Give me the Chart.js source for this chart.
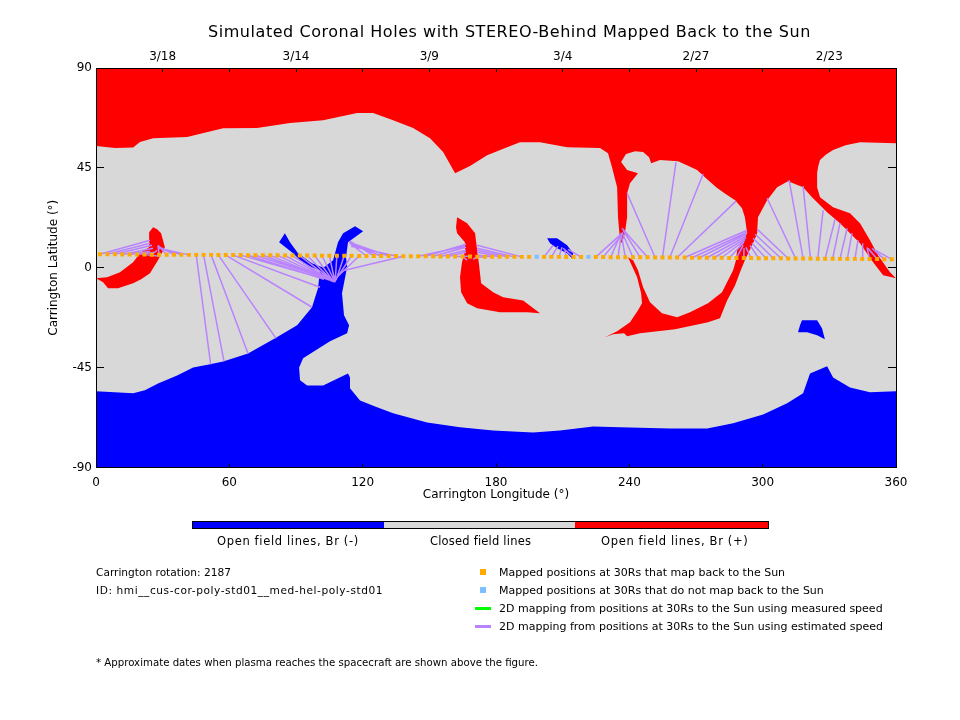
<!DOCTYPE html>
<html>
<head>
<meta charset="utf-8">
<title>Simulated Coronal Holes</title>
<script src="https://cdn.jsdelivr.net/npm/chart.js@4/dist/chart.umd.min.js"></script>
<style>
  body { margin: 0; background: #fff; }
  #wrap { position: relative; width: 960px; height: 720px; overflow: hidden; }
  canvas { position: absolute; left: 0; top: 0; }
  .t { position: absolute; white-space: pre; font-family: "DejaVu Sans", sans-serif; color: #000; transform: translateY(-50%); }
  .box { position: absolute; }
</style>
</head>
<body>
<div id="wrap"><canvas id="map" width="960" height="720"></canvas></div>
<script>
// Region outlines, longitude / latitude in degrees
var closedLon = [0, 360, 360, 0];
var closedLat = [90, 90, -90, -90];

var northLon = [0, 360, 360, 343.8, 337.3, 331.7, 328.5, 325.8, 325, 324.5, 324.5, 325.8, 331.7, 339.3, 343.8, 348.3, 351.9, 357.3, 360, 354.2, 349.7, 343.8, 334.8, 329, 322.2, 318.2, 311.4, 306.5, 302, 297.9, 297.5, 295.2, 293, 293, 292, 290.7, 287.6, 283.5, 279.5, 275, 270.5, 266.4, 261.9, 253.8, 249.8, 248.9, 246.2, 242.6, 238.5, 236.3, 239, 243.9, 240.3, 239, 239, 238, 236.7, 235.8, 234.9, 234.5, 232.2, 230.4, 226.8, 212, 199.8, 190.8, 185, 176, 168.3, 161.6, 156.2, 150.3, 142.7, 133.7, 124.7, 117.5, 102.2, 87.3, 72.5, 57.2, 41, 25.7, 19.8, 16.7, 8.6, 0];
var northLat = [90, 90, 56.1, 56.6, 55.2, 53, 51, 48.5, 45.7, 42.6, 36.3, 31.8, 27.3, 24.6, 20.1, 12.4, 5.6, -2, -4.7, -3.4, 2.5, 11, 20.1, 25, 31.8, 36.3, 39, 36.3, 30.4, 22.8, 15.6, 10.1, 10.1, 15.6, 22.8, 26.8, 30.4, 33.1, 35.9, 39.9, 44, 46, 48, 48.5, 47.1, 49.8, 52.1, 52.5, 51.2, 47.6, 44, 42.6, 38.1, 33.6, 22.8, 15.6, 11, 12.4, 22.8, 36.3, 45.3, 51.6, 53.9, 54.3, 56.6, 56.6, 54.3, 50.7, 45.8, 42.6, 52.1, 58.4, 63, 66.5, 69.7, 69.7, 66.5, 65.2, 63, 62.9, 58.9, 58.4, 56.7, 54.2, 54, 54.9];

var southLon = [0, 360, 360, 348.3, 339.3, 331.7, 329, 321.3, 318.2, 311, 300.2, 286.7, 275, 258.3, 235.8, 223.7, 208.8, 196.7, 178.7, 163.8, 149, 133.7, 126.5, 118.8, 114.3, 114.3, 113.4, 102.2, 95, 91.8, 91.4, 93.2, 105.3, 113, 113.9, 111.6, 110.7, 113, 112.5, 113.4, 120.2, 116.6, 111.2, 108.9, 106.7, 100.8, 99.9, 97.2, 90.5, 80.6, 68.4, 57.2, 51.3, 43.7, 36.5, 27.9, 22, 16.7, 0];
var southLat = [-90, -90, -55.7, -56.1, -53.9, -49.4, -44.4, -47.6, -56.6, -61.1, -66.1, -70.1, -72.4, -72.4, -71.9, -71.5, -73.3, -74.2, -73.3, -71.9, -69.7, -65.6, -62.9, -59.8, -54.3, -49.4, -47.6, -53, -53, -50.7, -44.9, -40.8, -33.1, -29.5, -25.9, -21.4, -11.5, 0.2, 4.7, 11.5, 16.5, 18.7, 15.6, 11.5, 3.4, -1.1, -9.2, -17.8, -25.9, -31.8, -38.6, -42.2, -43.5, -44.9, -48.5, -52.1, -55.2, -56.6, -55.7];

var armLon = [82.4, 85, 87.3, 90.9, 97.2, 105.3, 102.2, 93.2, 88.7];
var armLat = [11.5, 15.6, 11.5, 6.5, 2, -1.1, -2, 2, 6.5];

var midBlueLon = [203, 207.5, 212, 214.7, 214.2, 212, 207.5, 204.3];
var midBlueLat = [13.3, 13.3, 10.1, 6.5, 4.3, 6.5, 8.8, 11];

var rightBlueLon = [317.7, 324.5, 326.7, 328, 324.5, 320, 315.9, 316.8];
var rightBlueLat = [-23.7, -23.7, -27.3, -32.2, -30.4, -29.1, -29.1, -25.9];

var leftRedLon = [25.7, 27.5, 29.3, 31, 27.9, 24.3, 20.3, 16.7, 9.9, 5.4, 3.2, 0, 5, 10.8, 16.7, 19.8, 23.9, 23.9];
var leftRedLat = [18.3, 17.4, 15.6, 9.2, 3.4, -2.5, -5.2, -7, -9.2, -9.2, -6.5, -4.7, -4.3, -2, 2.5, 6.5, 9.2, 16];

var midRedLon = [162.5, 167, 170.6, 171.5, 172.4, 173.3, 178.7, 183.2, 192.2, 199.8, 194, 181.8, 171.5, 167, 164.3, 163.8, 164.7, 166.1, 166, 162.5, 162];
var midRedLat = [22.8, 20.1, 15.6, 7.9, 1.1, -7, -11, -13.3, -14.7, -20.5, -20.1, -20.1, -18.3, -16, -11, -4.3, 2.5, 7.9, 11.5, 15.6, 18.3];

var ringLon = [288.5, 293, 297.5, 295.2, 292, 289.8, 287.6, 284, 280.8, 275.4, 260.6, 244.8, 239, 237.6, 232.7, 229, 234.5, 240.3, 243.9, 245.7, 245.3, 243.5, 239.4, 241.7, 243.9, 246.2, 249.3, 254.7, 261.5, 267.3, 275.4, 281.7, 286.7, 288];
var ringLat = [7.9, 15.6, 15.6, 10.1, 3.4, -2, -7.9, -14.7, -22.8, -24.6, -27.7, -29.5, -30.9, -29.5, -30, -31.3, -28.6, -24.6, -19.2, -16, -11.5, -4.3, 4.7, 3.4, -1.1, -8.8, -15.6, -20.5, -22.3, -20.1, -16, -11, -1.1, 3.4];

// Positions at 30Rs and where they land on the Sun (null = no line drawn)
var sourceLon = [1.8, 5.1, 8.5, 11.8, 15.1, 18.5, 21.8, 25.1, 28.4, 31.8, 35.1, 38.4, 41.8, 45.1, 48.4, 51.8, 55.1, 58.4, 61.7, 65.1, 68.4, 71.7, 75.1, 78.4, 81.7, 85.1, 88.4, 91.7, 95, 98.4, 101.7, 105, 108.4, 111.7, 115, 118.4, 121.7, 125, 128.3, 131.7, 135, 138.3, 141.7, 145, 148.3, 151.7, 155, 158.3, 161.6, 165, 168.3, 171.6, 175, 178.3, 181.6, 185, 188.3, 191.6, 194.9, 201.6, 204.9, 208.3, 211.6, 214.9, 218.3, 224.9, 228.2, 231.6, 234.9, 238.2, 241.6, 244.9, 248.2, 251.6, 254.9, 258.2, 261.5, 264.9, 268.2, 271.5, 274.9, 278.2, 281.5, 284.9, 288.2, 291.5, 294.8, 298.2, 301.5, 304.8, 308.2, 311.5, 314.8, 318.2, 321.5, 324.8, 328.1, 331.5, 334.8, 338.1, 341.5, 344.8, 348.1, 351.5, 354.8, 358.1];
var sourceLat = [6.1, 6.1, 6.1, 6, 6, 6, 6, 5.9, 5.9, 5.9, 5.9, 5.8, 5.8, 5.8, 5.8, 5.8, 5.7, 5.7, 5.7, 5.7, 5.6, 5.6, 5.6, 5.6, 5.6, 5.5, 5.5, 5.5, 5.5, 5.5, 5.4, 5.4, 5.4, 5.4, 5.4, 5.3, 5.3, 5.3, 5.3, 5.3, 5.3, 5.2, 5.2, 5.2, 5.2, 5.2, 5.1, 5.1, 5.1, 5.1, 5.1, 5, 5, 5, 5, 5, 4.9, 4.9, 4.9, 4.9, 4.9, 4.9, 4.8, 4.8, 4.8, 4.8, 4.8, 4.7, 4.7, 4.7, 4.7, 4.7, 4.7, 4.6, 4.6, 4.6, 4.6, 4.6, 4.5, 4.5, 4.5, 4.5, 4.5, 4.4, 4.4, 4.4, 4.4, 4.3, 4.3, 4.3, 4.3, 4.2, 4.2, 4.2, 4.2, 4.1, 4.1, 4.1, 4, 4, 4, 3.9, 3.9, 3.9, 3.8, 3.8];
var footLon = [24.3, 24.3, 25.2, 25.7, 24.3, 26.6, 28.8, 27.5, 27.9, 27.9, 27.9, 27.9, 28.4, 51.6, 57.6, 68.4, 81, 97.2, 100.8, 101.7, 102.6, 103.5, 104, 104.9, 105.3, 105.8, 106.2, 106.7, 107.1, 107.1, 107.6, 107.6, 107.6, 108, 108, 108.9, 114.3, 114.3, 114.8, 113.9, 114.8, 112, null, 166, 166.5, 166.5, 166.5, 166.5, 167.4, 167, 168.3, 169.7, 171, 171.9, 171.5, 171.5, 171.5, 171.5, null, 205.7, 207.9, 209.7, 211, 210.2, 212.4, 235.8, 235.8, 236.3, 236.3, 236.3, 236.7, 237.2, 236.7, 239, 261, 273.2, 288, 293, 293, 292.5, 292.5, 292.5, 292, 291.6, 291.2, 291.6, 292.5, 294.3, 295.2, 295.7, 296.6, 297.5, 302, 311.9, 318.2, 327.2, 332.6, 334.8, 338, 340.2, 342.9, 345, 347, 347.4, 349.2, 350.6];
var footLat = [12.4, 11, 10.1, 8.8, 7.4, 7, 5.2, 7.9, 10.1, 10.1, 9.7, 9.2, 8.8, -43.5, -42.2, -38.6, -31.8, -17.8, -8.8, -4.7, -5.2, -4.7, -5.2, -5.6, -5.6, -5.6, -6.1, -6.1, -6.5, -6.5, -6.5, -6.5, -6.5, -5.6, -5.2, -3.8, 11, 12, 10.6, 11.5, 9.7, -1.1, null, 9.7, 10.6, 9.2, 7.9, 7, 5.2, 3.4, 4.7, 3.8, 4.7, 5.6, 7, 7.9, 8.8, 10.1, null, 10.1, 9.7, 9.2, 7.9, 8.8, 8.3, 14.7, 13.8, 15.6, 14.7, 15.6, 16, 16.9, 17.8, 33.6, 47.6, 42.2, 30, 16.9, 16, 15.1, 14.2, 13.3, 12.4, 11.5, 10.1, 8.8, 9.2, 10.1, 11, 13.3, 15.1, 17.4, 31.3, 39.5, 36.8, 25.9, 21.9, 20.1, 17.8, 15.6, 12.4, 11, 9.2, 8.8, 8.8, 7.9];

var noMapLon = [198.3, 221.6];
var noMapLat = [5, 4.9];

var dateLabels = ["3/18", "3/14", "3/9", "3/4", "2/27", "2/23"];
var dateLons = [30, 90, 150, 210, 270, 330];

var RED = "#ff0000", BLUE = "#0000ff", GREY = "#d8d8d8";
var ORANGE = "#ffaa00", SKY = "#7fbfff", PURPLE = "#b983ff", GREEN = "#00ff00";
var FONT = "DejaVu Sans";

function toPoints(xs, ys) {
    return xs.map(function(x, i) { return { x: x, y: ys[i] }; });
}

function region(xs, ys, color) {
    return {
        data: toPoints(xs, ys),
        showLine: true,
        fill: "shape",
        backgroundColor: color,
        borderWidth: 0,
        pointRadius: 0,
        pointHoverRadius: 0
    };
}

// One broken line: source -> foot, then a gap
var mappingLines = [];
sourceLon.forEach(function(lon, i) {
    if (footLon[i] === null) return;
    mappingLines.push({ x: lon, y: sourceLat[i] });
    mappingLines.push({ x: footLon[i], y: footLat[i] });
    mappingLines.push({ x: NaN, y: NaN });
});

function fixSize(prop, size) {
    return function(scale) { scale[prop] = size; };
}

// Ticks point into the plot, hence the negative lengths
function axisGrid(len) {
    return { drawOnChartArea: false, tickColor: "#000", tickLength: len, tickWidth: 1, z: 1 };
}
var axisBorder = { color: "#000", width: 1, z: 1 };
var tickFont = { family: FONT, size: 12 };

new Chart(document.getElementById("map"), {
    type: "scatter",
    data: {
        datasets: [
            { data: toPoints(noMapLon, noMapLat), pointStyle: "rect", pointRadius: 2.8, backgroundColor: SKY, borderWidth: 0, showLine: false },
            { data: toPoints(sourceLon, sourceLat), pointStyle: "rect", pointRadius: 2.8, backgroundColor: ORANGE, borderWidth: 0, showLine: false },
            { data: mappingLines, showLine: true, spanGaps: false, borderColor: PURPLE, borderWidth: 1.5, pointRadius: 0 },
            region(rightBlueLon, rightBlueLat, BLUE),
            region(midBlueLon, midBlueLat, BLUE),
            region(armLon, armLat, BLUE),
            region(midRedLon, midRedLat, RED),
            region(leftRedLon, leftRedLat, RED),
            region(ringLon, ringLat, RED),
            region(southLon, southLat, BLUE),
            region(northLon, northLat, RED),
            region(closedLon, closedLat, GREY)
        ]
    },
    options: {
        responsive: false,
        animation: false,
        events: [],
        layout: { padding: 0 },
        plugins: { legend: { display: false }, tooltip: { enabled: false } },
        scales: {
            x: {
                position: "bottom", min: 0, max: 360,
                afterFit: fixSize("height", 252.5),
                grid: axisGrid(-4), border: axisBorder,
                ticks: { stepSize: 60, color: "#000", font: tickFont, padding: 12, maxRotation: 0 },
                title: { display: true, text: "Carrington Longitude (°)", color: "#000", font: tickFont, padding: { top: 0, bottom: 217.5 } }
            },
            x2: {
                axis: "x", position: "top", min: 0, max: 360,
                afterFit: fixSize("height", 68),
                grid: axisGrid(-4), border: axisBorder,
                ticks: {
                    stepSize: 30, color: "#000", font: tickFont, padding: 8, maxRotation: 0, autoSkip: false,
                    callback: function(v) {
                        var i = dateLons.indexOf(v);
                        return i < 0 ? "" : dateLabels[i];
                    }
                }
            },
            y: {
                position: "left", min: -90, max: 90,
                afterFit: fixSize("width", 96),
                grid: axisGrid(-8), border: axisBorder,
                ticks: { stepSize: 45, color: "#000", font: tickFont, padding: 12 },
                title: { display: true, text: "Carrington Latitude (°)", color: "#000", font: tickFont, padding: { top: 47, bottom: 0 } }
            },
            y2: {
                axis: "y", position: "right", min: -90, max: 90,
                afterFit: fixSize("width", 64),
                grid: axisGrid(-8), border: axisBorder,
                ticks: { stepSize: 45, display: false }
            }
        }
    }
});

// Everything outside the plot is plain page text
var wrap = document.getElementById("wrap");

function addText(text, x, y, size, spacing) {
    var el = document.createElement("div");
    el.className = "t";
    el.textContent = text;
    el.style.left = x + "px";
    el.style.top = y + "px";
    el.style.fontSize = size + "px";
    el.style.letterSpacing = spacing + "px";
    wrap.appendChild(el);
}

function addBox(x, y, w, h, color) {
    var el = document.createElement("div");
    el.className = "box";
    el.style.cssText = "left:" + x + "px;top:" + y + "px;width:" + w + "px;height:" + h + "px;background:" + color;
    wrap.appendChild(el);
}

addText("Simulated Coronal Holes with STEREO-Behind Mapped Back to the Sun", 208, 31, 16, 0.55);

// colour bar
addBox(192, 521, 577, 8, "#000");
addBox(193, 522, 191, 6, BLUE);
addBox(384, 522, 191, 6, GREY);
addBox(575, 522, 193, 6, RED);
addText("Open field lines, Br (-)", 217, 541, 11.5, 0.65);
addText("Closed field lines", 430, 541, 11.5, 0.2);
addText("Open field lines, Br (+)", 601, 541, 11.5, 0.65);

addText("Carrington rotation: 2187", 96, 572, 10.6, 0);
addText("ID: hmi__cus-cor-poly-std01__med-hel-poly-std01", 96, 590, 10.6, 0.57);

// legend
addBox(480, 569, 6, 6, ORANGE);
addBox(480, 587, 6, 6, SKY);
addBox(475, 607, 16, 3, GREEN);
addBox(475, 625, 16, 3, PURPLE);
addText("Mapped positions at 30Rs that map back to the Sun", 499, 572, 11, 0);
addText("Mapped positions at 30Rs that do not map back to the Sun", 499, 590, 11, 0);
addText("2D mapping from positions at 30Rs to the Sun using measured speed", 499, 608, 11, 0);
addText("2D mapping from positions at 30Rs to the Sun using estimated speed", 499, 626, 11, 0);

addText("* Approximate dates when plasma reaches the spacecraft are shown above the figure.", 96, 662, 10.2, 0);
</script>
</body>
</html>
